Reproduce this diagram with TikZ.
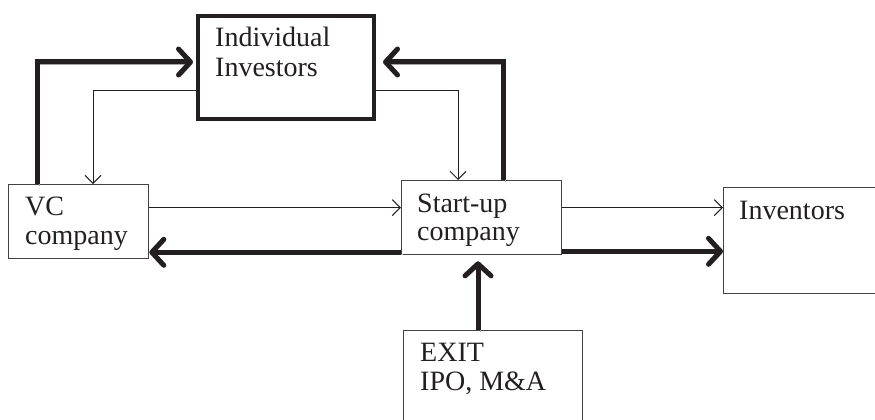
\documentclass[tikz,border=0pt]{standalone}
\usepackage{fontspec}
\setmainfont{Liberation Serif}
\usetikzlibrary{arrows.meta}
\definecolor{ink}{HTML}{231F20}
\tikzset{
  box/.style={draw=ink!85, line width=1.3pt, rectangle, inner sep=0pt, anchor=north west},
  bigbox/.style={draw=ink, line width=4pt, rectangle, inner sep=0pt, anchor=north west},
  lbl/.style={anchor=base west, inner sep=0pt, text=ink, font=\fontsize{28}{32}\selectfont},
  thin/.style={draw=ink, line width=1pt, -{Straight Barb[length=8pt,width=16pt]}},
  thick/.style={draw=ink, line width=5pt, -{Straight Barb[length=12pt,width=26pt,round]},
    preaction={draw=black!35, transform canvas={shift={(1.8pt,-1.8pt)}}}},
}
\begin{document}
\begin{tikzpicture}[x=1pt,y=-1pt]
\useasboundingbox (0,0) rectangle (875,420);
\clip (0,0) rectangle (875,420);
% boxes
\node[bigbox, minimum width=176pt, minimum height=103pt] (ind) at (196,14) {};
\node[box, minimum width=140pt, minimum height=74pt] (vc) at (8,184) {};
\node[box, minimum width=160pt, minimum height=74pt] (su) at (401,180) {};
\node[box, minimum width=180pt, minimum height=106pt] (inv) at (723,187) {};
\node[box, minimum width=179pt, minimum height=110pt] (exit) at (403,330) {};
% labels
\node[lbl] (ind1) at (215,47) {Individual};
\node[lbl] (ind2) at (215,76) {Investors};
\node[lbl] (vc1) at (25,215) {VC};
\node[lbl] (vc2) at (25,244) {company};
\node[lbl] (su1) at (417,212) {Start-up};
\node[lbl] (su2) at (417,240) {company};
\node[lbl] (inv1) at (739,219) {Inventors};
\node[lbl] (ex1) at (420,361) {EXIT};
\node[lbl] (ex2) at (420,390) {IPO, M\&A};
% thin connectors
\draw[thin] ([yshift=-22.5pt]ind.west) -| ([xshift=85pt]vc.north west);
\draw[thin] ([yshift=-22.5pt]ind.east) -| ([xshift=57pt]su.north west);
\draw[thin] ([yshift=14pt]vc.east) -- ([yshift=14pt]vc.east -| su.west);
\draw[thin] ([yshift=10pt]su.east) -- ([yshift=10pt]su.east -| inv.west);
% thick connectors
\draw[thick] ([xshift=29pt]vc.north west) |- ([yshift=5.5pt,xshift=-3pt]ind.west);
\draw[thick] ([xshift=102pt]su.north west) |- ([yshift=5.5pt,xshift=7pt]ind.east);
\draw[thick] ([yshift=3pt]su.south west) -- ([yshift=3pt]su.south west -| vc.east);
\draw[thick] ([yshift=4pt]su.south east) -- ([yshift=4pt]su.south east -| inv.west);
\draw[thick] ([xshift=75pt]exit.north west) -- ([xshift=75pt,yshift=-6pt]exit.north west |- su.south);
\end{tikzpicture}
\end{document}
